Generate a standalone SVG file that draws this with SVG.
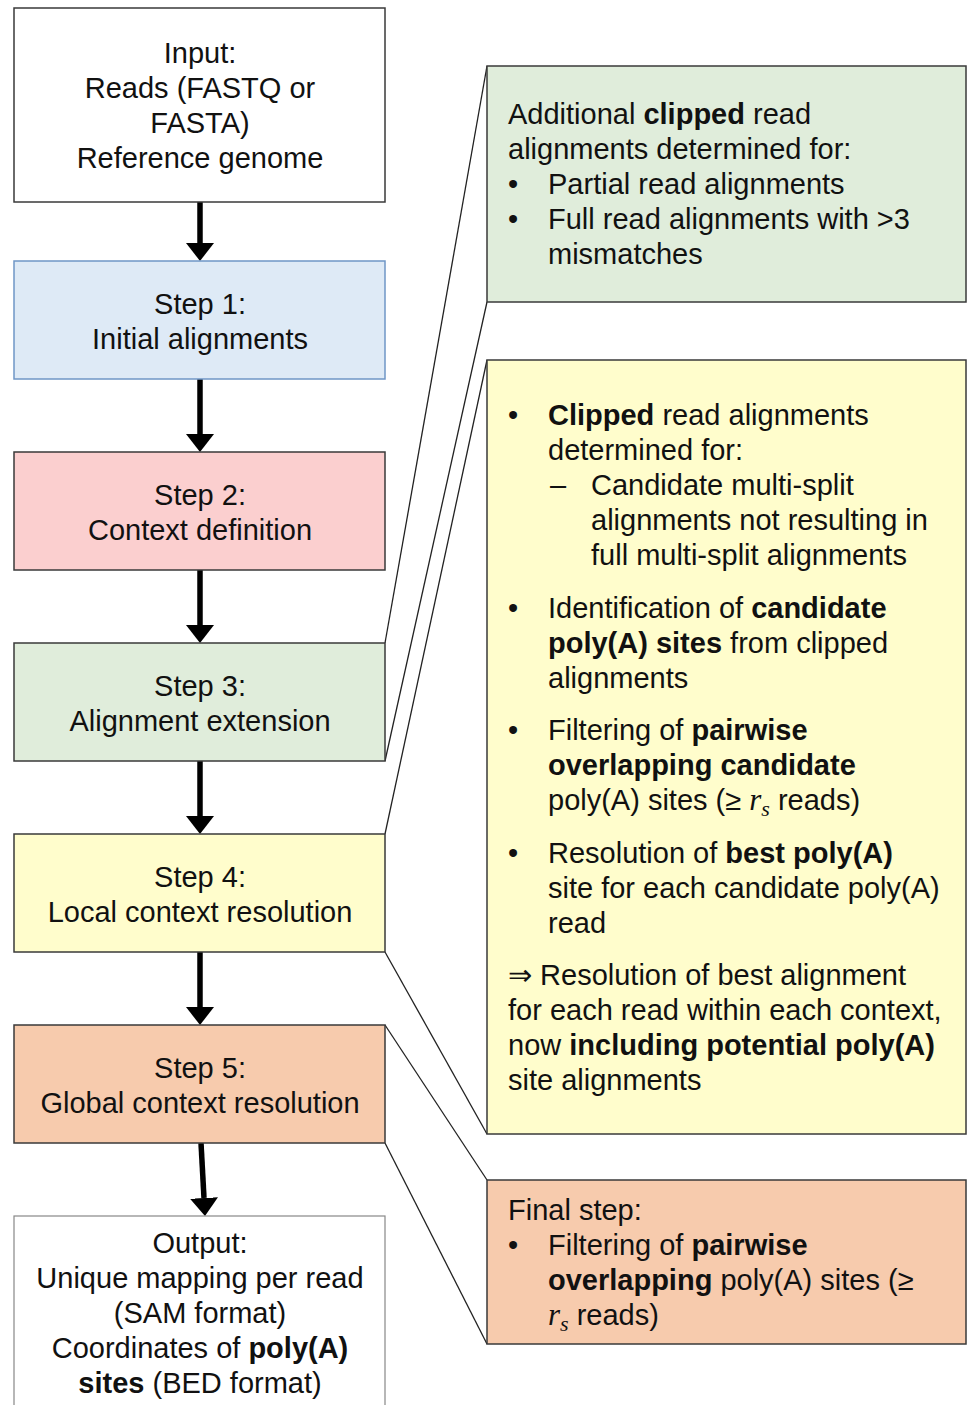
<svg xmlns="http://www.w3.org/2000/svg" width="967" height="1405" viewBox="0 0 967 1405">
<style>
text{font-family:"Liberation Sans",Arial,sans-serif;font-size:29px;fill:#111}
.c{text-anchor:middle}
.b{font-weight:bold}
.m{font-family:"Liberation Serif","Times New Roman",serif;font-style:italic}
.box{stroke:#3a3a3a;stroke-width:1.5}
.link{stroke:#222;stroke-width:1.3;fill:none}
.arrow{stroke:#000;stroke-width:5.5;fill:none}
</style>
<defs>
<marker id="ah" markerUnits="userSpaceOnUse" markerWidth="18" markerHeight="28" viewBox="0 0 18 28" refX="0" refY="14" orient="auto">
<path d="M0,0 L18,14 L0,28 Z" fill="#000"/>
</marker>
</defs>
<rect width="967" height="1405" fill="#fff"/>

<g id="connectors">
<line class="arrow" x1="200" y1="202" x2="200" y2="243" marker-end="url(#ah)"/>
<line class="arrow" x1="200" y1="379" x2="200" y2="434" marker-end="url(#ah)"/>
<line class="arrow" x1="200" y1="570" x2="200" y2="625" marker-end="url(#ah)"/>
<line class="arrow" x1="200" y1="761" x2="200" y2="816" marker-end="url(#ah)"/>
<line class="arrow" x1="200" y1="952" x2="200" y2="1007" marker-end="url(#ah)"/>
<line class="arrow" x1="201" y1="1143" x2="204" y2="1198" marker-end="url(#ah)"/>
<line class="link" x1="385" y1="643" x2="487" y2="66"/>
<line class="link" x1="385" y1="761" x2="487" y2="302"/>
<line class="link" x1="385" y1="834" x2="487" y2="360"/>
<line class="link" x1="385" y1="952" x2="487" y2="1134"/>
<line class="link" x1="385" y1="1025" x2="487" y2="1180"/>
<line class="link" x1="385" y1="1143" x2="487" y2="1344"/>
</g>

<g id="input">
<rect class="box" x="14" y="8" width="371" height="194" fill="#fff"/>
<text class="c" x="200" y="63">Input:</text>
<text class="c" x="200" y="98">Reads (FASTQ or</text>
<text class="c" x="200" y="133">FASTA)</text>
<text class="c" x="200" y="168">Reference genome</text>
</g>

<g id="step1">
<rect x="14" y="261" width="371" height="118" fill="#deeaf6" stroke="#6f96c6" stroke-width="1.5"/>
<text class="c" x="200" y="314">Step 1:</text>
<text class="c" x="200" y="349">Initial alignments</text>
</g>

<g id="step2">
<rect class="box" x="14" y="452" width="371" height="118" fill="#fbcfcf"/>
<text class="c" x="200" y="505">Step 2:</text>
<text class="c" x="200" y="540">Context definition</text>
</g>

<g id="step3">
<rect class="box" x="14" y="643" width="371" height="118" fill="#e0eddb"/>
<text class="c" x="200" y="696">Step 3:</text>
<text class="c" x="200" y="731">Alignment extension</text>
</g>

<g id="step4">
<rect class="box" x="14" y="834" width="371" height="118" fill="#fffdcc"/>
<text class="c" x="200" y="887">Step 4:</text>
<text class="c" x="200" y="922">Local context resolution</text>
</g>

<g id="step5">
<rect class="box" x="14" y="1025" width="371" height="118" fill="#f7cbad"/>
<text class="c" x="200" y="1078">Step 5:</text>
<text class="c" x="200" y="1113">Global context resolution</text>
</g>

<g id="output">
<rect x="14" y="1216" width="371" height="200" fill="#fff" stroke="#888" stroke-width="1.2"/>
<text class="c" x="200" y="1253">Output:</text>
<text class="c" x="200" y="1288">Unique mapping per read</text>
<text class="c" x="200" y="1323">(SAM format)</text>
<text class="c" x="200" y="1358">Coordinates of <tspan class="b">poly(A)</tspan></text>
<text class="c" x="200" y="1393"><tspan class="b">sites</tspan> (BED format)</text>
</g>

<g id="detail-step3">
<rect class="box" x="487" y="66" width="479" height="236" fill="#e0eddb"/>
<text x="508" y="124">Additional <tspan class="b">clipped</tspan> read</text>
<text x="508" y="159">alignments determined for:</text>
<text x="508" y="194">•</text>
<text x="548" y="194">Partial read alignments</text>
<text x="508" y="229">•</text>
<text x="548" y="229">Full read alignments with &gt;3</text>
<text x="548" y="264">mismatches</text>
</g>

<g id="detail-step4">
<rect class="box" x="487" y="360" width="479" height="774" fill="#fffdcc"/>
<text x="508" y="425">•</text>
<text x="548" y="425"><tspan class="b">Clipped</tspan> read alignments</text>
<text x="548" y="460">determined for:</text>
<text x="550" y="495">–</text>
<text x="591" y="495">Candidate multi-split</text>
<text x="591" y="530">alignments not resulting in</text>
<text x="591" y="565">full multi-split alignments</text>
<text x="508" y="618">•</text>
<text x="548" y="618">Identification of <tspan class="b">candidate</tspan></text>
<text x="548" y="653"><tspan class="b">poly(A) sites</tspan> from clipped</text>
<text x="548" y="688">alignments</text>
<text x="508" y="740">•</text>
<text x="548" y="740">Filtering of <tspan class="b">pairwise</tspan></text>
<text x="548" y="775" class="b">overlapping candidate</text>
<text x="548" y="810">poly(A) sites (≥ <tspan class="m" font-size="31">r</tspan><tspan class="m" font-size="22" dy="6">s</tspan><tspan dy="-6"> reads)</tspan></text>
<text x="508" y="863">•</text>
<text x="548" y="863">Resolution of <tspan class="b">best poly(A)</tspan></text>
<text x="548" y="898">site for each candidate poly(A)</text>
<text x="548" y="933">read</text>
<text x="508" y="985">⇒ Resolution of best alignment</text>
<text x="508" y="1020">for each read within each context,</text>
<text x="508" y="1055">now <tspan class="b">including potential poly(A)</tspan></text>
<text x="508" y="1090">site alignments</text>
</g>

<g id="detail-step5">
<rect class="box" x="487" y="1180" width="479" height="164" fill="#f7cbad"/>
<text x="508" y="1220">Final step:</text>
<text x="508" y="1255">•</text>
<text x="548" y="1255">Filtering of <tspan class="b">pairwise</tspan></text>
<text x="548" y="1290"><tspan class="b">overlapping</tspan> poly(A) sites (≥</text>
<text x="548" y="1325"><tspan class="m" font-size="31">r</tspan><tspan class="m" font-size="22" dy="6">s</tspan><tspan dy="-6"> reads)</tspan></text>
</g>
</svg>
